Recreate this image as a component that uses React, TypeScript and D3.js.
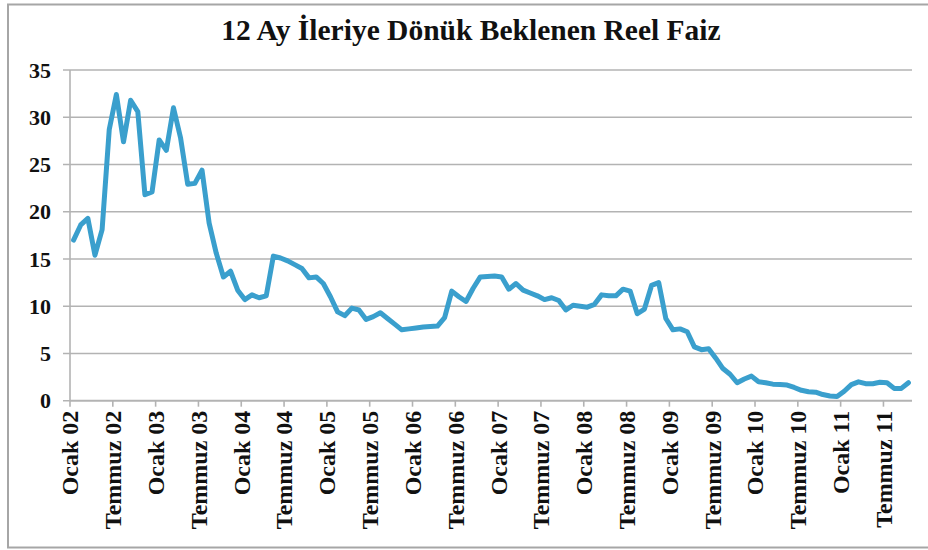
import React from "react";
import * as d3 from "d3";

const title = "12 Ay İleriye Dönük Beklenen Reel Faiz";

const values: number[] = [
  17.0, 18.6, 19.3, 15.4, 18.1, 28.7, 32.4, 27.4, 31.8, 30.6,
  21.8, 22.1, 27.6, 26.5, 31.0, 27.8, 22.9, 23.0, 24.4, 18.8,
  15.6, 13.1, 13.7, 11.7, 10.7, 11.2, 10.9, 11.1, 15.3, 15.1,
  14.8, 14.4, 14.0, 13.0, 13.1, 12.4, 11.0, 9.4, 9.0, 9.8,
  9.6, 8.6, 8.9, 9.3, 8.7, 8.1, 7.5, 7.6, 7.7, 7.8,
  7.85, 7.9, 8.8, 11.6, 11.0, 10.5, 11.9, 13.1, 13.15, 13.2,
  13.1, 11.8, 12.4, 11.7, 11.4, 11.1, 10.7, 10.9, 10.6, 9.6,
  10.1, 10.0, 9.9, 10.2, 11.2, 11.1, 11.1, 11.8, 11.6, 9.2,
  9.7, 12.2, 12.5, 8.7, 7.5, 7.6, 7.3, 5.7, 5.4, 5.5,
  4.5, 3.4, 2.8, 1.9, 2.3, 2.6, 2.0, 1.9, 1.75, 1.72,
  1.66, 1.4, 1.1, 0.95, 0.9, 0.65, 0.5, 0.45, 1.0, 1.7,
  2.0, 1.8, 1.8, 1.95, 1.9, 1.3, 1.3, 1.9,
];

const tickLabels: string[] = [
  "Ocak 02", "Temmuz 02", "Ocak 03", "Temmuz 03", "Ocak 04", "Temmuz 04",
  "Ocak 05", "Temmuz 05", "Ocak 06", "Temmuz 06", "Ocak 07", "Temmuz 07",
  "Ocak 08", "Temmuz 08", "Ocak 09", "Temmuz 09", "Ocak 10", "Temmuz 10",
  "Ocak 11", "Temmuz 11",
];

const yTicks: number[] = [0, 5, 10, 15, 20, 25, 30, 35];

const W = 928;
const H = 550;
const left = 70;
const right = 912;
const top = 70;
const bottom = 400.7;
const font = "'Liberation Serif', 'DejaVu Serif', serif";

export default function App() {
  const n = values.length;
  const x = d3.scaleLinear().domain([-0.5, n - 0.5]).range([left, right]);
  const y = d3.scaleLinear().domain([0, 35]).range([bottom, top]);
  const line = d3
    .line<number>()
    .x((_, i) => x(i))
    .y((d) => y(d));
  const gridColor = "#b3b3b3";
  return (
    <svg
      width={W}
      height={H}
      style={{ position: "absolute", left: 0, top: 0, background: "#fff" }}
    >
      <rect x={0} y={0} width={W} height={H} fill="#fff" />
      <rect x={8} y={4.5} width={W + 10} height={543} fill="none" stroke="#a6a6a6" strokeWidth={2} />
      <text
        x={471}
        y={40}
        textAnchor="middle"
        fontFamily={font}
        fontWeight="bold"
        fontSize={29.5}
        fill="#111"
      >
        {title}
      </text>
      {yTicks.map((t) => (
        <g key={t}>
          <line x1={left - 7} x2={right} y1={y(t)} y2={y(t)} stroke={gridColor} strokeWidth={1.6} />
          <text
            x={51}
            y={y(t)}
            dy="0.35em"
            textAnchor="end"
            fontFamily={font}
            fontWeight="bold"
            fontSize={22}
            fill="#111"
          >
            {t}
          </text>
        </g>
      ))}
      <line x1={left} x2={left} y1={top} y2={bottom} stroke={gridColor} strokeWidth={1.6} />
      <line x1={left} x2={right} y1={bottom} y2={bottom} stroke={gridColor} strokeWidth={1.8} />
      {tickLabels.map((lab, k) => {
        const tx = x(-0.5 + 6 * k);
        return (
          <g key={lab}>
            <line x1={tx} x2={tx} y1={bottom} y2={bottom + 6} stroke={gridColor} strokeWidth={1.6} />
            <text
              transform={`translate(${tx},${bottom + 10}) rotate(-90)`}
              dy="0.35em"
              textAnchor="end"
              fontFamily={font}
              fontWeight="bold"
              fontSize={24}
              fill="#111"
            >
              {lab}
            </text>
          </g>
        );
      })}
      <path
        d={line(values) || ""}
        fill="none"
        stroke="#3a9fcd"
        strokeWidth={5}
        strokeLinejoin="round"
        strokeLinecap="round"
      />
    </svg>
  );
}
